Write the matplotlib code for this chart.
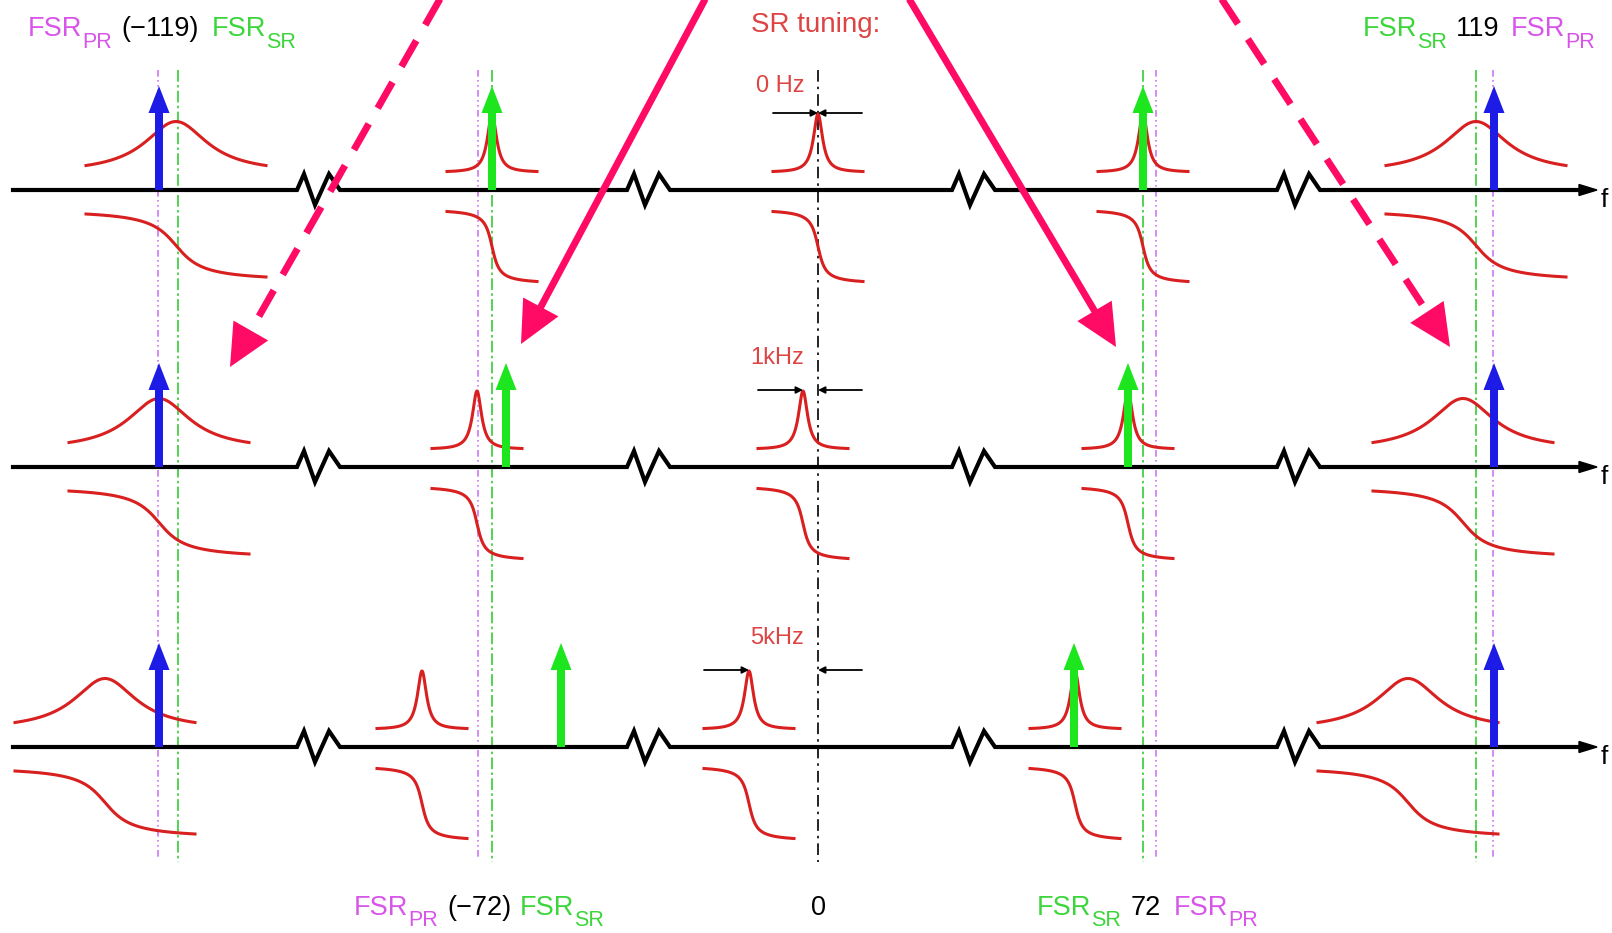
import numpy as np
import matplotlib.pyplot as plt

plt.rcParams['font.family'] = ['Liberation Sans', 'DejaVu Sans']

# baselines of the three frequency axes and the SR detuning shown on each
row_y = [190, 467, 747]
tuning = ['0 Hz', '1kHz', '5kHz']

# SR resonance centres per row, for the -119, -72, 0, +72, +119 FSR groups
res_m119 = [176, 159, 105]
res_m72 = [492, 477, 422]
res_0 = [818, 803, 749]
res_p72 = [1143, 1128, 1075]
res_p119 = [1476, 1463, 1408]

# fields: carrier (blue) and RF sidebands (green)
carrier_x = [159, 1494]
sb_low = [492, 506, 561]
sb_high = [1143, 1128, 1074]

# FSR marker lines and axis breaks
pr_lines = [158, 478, 1156, 1493]
sr_lines = [178, 492, 1143, 1476]
zero_line = 818
breaks = [297, 627, 952, 1277]

# big pink arrows: start, tip, dashed?
pink = [((444, -8), (230, 367), True),
        ((709, -8), (521, 344), False),
        ((905, -8), (1116, 347), False),
        ((1217, -8), (1450, 347), True)]

RED = '#d92020'
BLUE = '#1c1ce6'
GREEN = '#1ee61e'
PINK = '#ff0a64'
MAG_T = '#d855ea'
GRN_T = '#3cd63c'
RED_T = '#dd4444'

fig = plt.figure(figsize=(16.12, 9.33), dpi=100)
ax = fig.add_axes([0, 0, 1, 1])
ax.set_xlim(0, 1612)
ax.set_ylim(933, 0)
ax.axis('off')

# vertical FSR lines
for x in pr_lines:
    ax.plot([x, x], [70, 860], color='#cc77ee', lw=1.2, ls=(0, (4, 2, 1, 2, 1, 2)), zorder=1)
for x in sr_lines:
    ax.plot([x, x], [70, 862], color='#33cc33', lw=1.2, ls=(0, (7, 2, 1.5, 2)), zorder=1)
ax.plot([zero_line, zero_line], [70, 862], color='k', lw=1.2, ls=(0, (7, 3, 1.5, 3)), zorder=1)


def resonance(x0, y0, wide):
    w = 90 if wide else 45
    g = 38 if wide else 5.5
    gd = 20 if wide else 5.5
    x = np.linspace(x0 - w, x0 + w, 500)
    L = 1 / (1 + ((x - x0) / g) ** 2)
    Lw = 1 / (1 + (w / g) ** 2)
    n = (L - Lw) / (1 - Lw)
    base, amp = (24.5, 44) if wide else (18.5, 57.5)
    ax.plot(x, y0 - base - amp * n, color=RED, lw=2.2, zorder=3)
    ph = np.arctan((x - x0) / gd) / np.arctan(w / gd)
    mid, half = (55.5, 31.5) if wide else (56.5, 35)
    ax.plot(x, y0 + mid + half * ph, color=RED, lw=2.2, zorder=3)


def field(x, y0, color):
    ax.arrow(x, y0, 0, -104, width=8, head_width=21, head_length=27,
             length_includes_head=True, fc=color, ec=color, lw=0, zorder=5)


for r, y0 in enumerate(row_y):
    # frequency axis with breaks
    xs, ys = [13], [y0]
    for b in breaks:
        xs += [b, b + 7, b + 18, b + 32, b + 43]
        ys += [y0, y0 - 16, y0 + 15, y0 - 16, y0]
    xs.append(1585)
    ys.append(y0)
    ax.plot(xs, ys, color='k', lw=3, solid_joinstyle='miter', zorder=4)
    ax.arrow(1575, y0, 22, 0, width=0, head_width=11, head_length=18,
             length_includes_head=True, fc='k', ec='k', zorder=4)
    ax.text(1604, y0 + 10, 'f', fontsize=19, ha='center', va='center')

    for xs_, wide in [(res_m119, True), (res_m72, False), (res_0, False),
                      (res_p72, False), (res_p119, True)]:
        resonance(xs_[r], y0, wide)

    for x in carrier_x:
        field(x, y0, BLUE)
    field(sb_low[r], y0, GREEN)
    field(sb_high[r], y0, GREEN)

    # detuning marker
    ym = y0 - 77
    ap = dict(arrowstyle='-|>', color='k', lw=1.3, mutation_scale=10, shrinkA=0, shrinkB=0)
    ax.annotate('', xy=(res_0[r], ym), xytext=(res_0[r] - 45, ym), arrowprops=ap, zorder=6)
    ax.annotate('', xy=(zero_line, ym), xytext=(862, ym), arrowprops=ap, zorder=6)
    ax.text(804, y0 - (104 if r == 0 else 109), tuning[r], fontsize=17, color=RED_T,
            ha='right', va='center')

# pink arrows
for (x0, y0), (x1, y1), dashed in pink:
    d = np.array([x1 - x0, y1 - y0], float)
    u = d / np.hypot(*d)
    hl = 42
    bx, by = x1 - u[0] * hl, y1 - u[1] * hl
    ls = (0, (4.3, 2.6)) if dashed else '-'
    ax.plot([x0, bx + u[0] * 4], [y0, by + u[1] * 4], color=PINK, lw=5, ls=ls,
            solid_capstyle='butt', dash_capstyle='butt', zorder=7)
    ax.arrow(bx, by, u[0] * hl, u[1] * hl, width=0, head_width=40, head_length=hl,
             length_includes_head=True, fc=PINK, ec=PINK, lw=0, zorder=7)

# labels
renderer = fig.canvas.get_renderer()


def label(x, y, pieces):
    for text, color, sub, gap in pieces:
        x += gap
        if sub:
            t = ax.text(x, y + 13, text, fontsize=15.5, color=color, ha='left', va='center')
        else:
            t = ax.text(x, y, text, fontsize=19.5, color=color, ha='left', va='center')
        bb = t.get_window_extent(renderer)
        x += bb.width


label(28, 29, [('FSR', MAG_T, False, 0), ('PR', MAG_T, True, 0),
               ('(\u2212119)', 'k', False, 9), ('FSR', GRN_T, False, 13), ('SR', GRN_T, True, 0)])
label(1363, 29, [('FSR', GRN_T, False, 0), ('SR', GRN_T, True, 0),
                 ('119', 'k', False, 9), ('FSR', MAG_T, False, 11), ('PR', MAG_T, True, 0)])
label(354, 908, [('FSR', MAG_T, False, 0), ('PR', MAG_T, True, 0),
                 ('(\u221272)', 'k', False, 9), ('FSR', GRN_T, False, 8), ('SR', GRN_T, True, 0)])
label(1037, 908, [('FSR', GRN_T, False, 0), ('SR', GRN_T, True, 0),
                  ('72', 'k', False, 9), ('FSR', MAG_T, False, 13), ('PR', MAG_T, True, 0)])
ax.text(818, 908, '0', fontsize=19.5, ha='center', va='center')
ax.text(816, 25, 'SR tuning:', fontsize=20, color=RED_T, ha='center', va='center')

fig.savefig('out.png', dpi=100)
